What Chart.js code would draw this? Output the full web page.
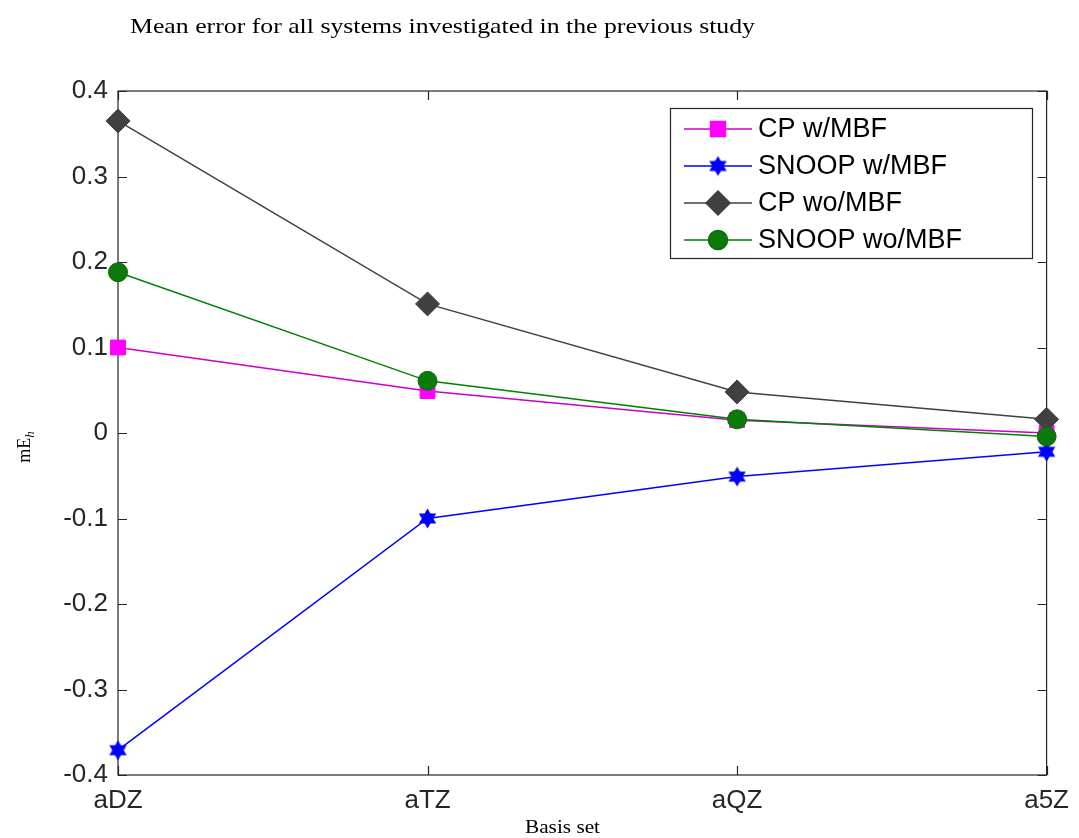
<!DOCTYPE html>
<html>
<head>
<meta charset="utf-8">
<script src="https://cdn.jsdelivr.net/npm/chart.js@4.4.1/dist/chart.umd.min.js"></script>
<style>
  html, body { margin: 0; padding: 0; background: #fff; }
  #wrap { width: 1079px; height: 838px; position: relative; }
</style>
</head>
<body>
<div id="wrap"><canvas id="miGrafica" width="1079" height="838"></canvas></div>
<script>
// datos
const basisSets = ["aDZ", "aTZ", "aQZ", "a5Z"];
const cpConMBF = [0.100, 0.049, 0.015, 0.000];
const snoopConMBF = [-0.371, -0.100, -0.051, -0.022];
const cpSinMBF = [0.365, 0.151, 0.048, 0.016];
const snoopSinMBF = [0.188, 0.061, 0.016, -0.004];
const yTicks = [-0.4, -0.3, -0.2, -0.1, 0, 0.1, 0.2, 0.3, 0.4];

const tituloTexto = "Mean error for all systems investigated in the previous study";
const colorEjes = "#262626";

// estrella de seis puntas para SNOOP w/MBF
function hexagrama(size, color) {
    const c = document.createElement("canvas");
    c.width = size; c.height = size;
    const g = c.getContext("2d");
    const r = size / 2 - 0.5, cx = size / 2, cy = size / 2;
    g.fillStyle = color;
    for (let t = 0; t < 2; t++) {
        g.beginPath();
        for (let k = 0; k < 3; k++) {
            const a = -Math.PI / 2 + t * Math.PI + k * 2 * Math.PI / 3;
            const x = cx + r * Math.cos(a), y = cy + r * Math.sin(a);
            if (k === 0) g.moveTo(x, y); else g.lineTo(x, y);
        }
        g.closePath();
        g.fill();
    }
    return c;
}
const estrella = hexagrama(21, "#0000ff");

const series = [
    { label: "CP w/MBF", data: cpConMBF, borderColor: "#cc00cc", backgroundColor: "#ff00ff",
      pointStyle: "rect", pointRadius: 10.5, pointBorderColor: "#ff00ff" },
    { label: "SNOOP w/MBF", data: snoopConMBF, borderColor: "#0000ff", backgroundColor: "#0000ff",
      pointStyle: estrella, pointRadius: 10, pointBorderColor: "#0000ff" },
    { label: "CP wo/MBF", data: cpSinMBF, borderColor: "#404040", backgroundColor: "#404040",
      pointStyle: "rectRot", pointRadius: 12, pointBorderColor: "#404040" },
    { label: "SNOOP wo/MBF", data: snoopSinMBF, borderColor: "#008000", backgroundColor: "#0a7a0a",
      pointStyle: "circle", pointRadius: 9.5, pointBorderColor: "#0a6a0a" }
];

// texto serif estirado al ancho que tiene en la figura
function textoAncho(ctx, txt, x, y, ancho) {
    const w = ctx.measureText(txt).width;
    ctx.save();
    ctx.translate(x, y);
    ctx.scale(ancho / w, 1);
    ctx.fillText(txt, 0, 0);
    ctx.restore();
}

const cajaYTitulos = {
    id: "cajaYTitulos",
    beforeDatasetsDraw(chart) {
        const { ctx, chartArea: a, scales } = chart;
        ctx.save();
        ctx.strokeStyle = colorEjes;
        ctx.lineWidth = 1.2;
        ctx.strokeRect(a.left, a.top, a.right - a.left, a.bottom - a.top);
        ctx.beginPath();
        yTicks.forEach(v => {
            const y = Math.round(scales.y.getPixelForValue(v)) + 0.5;
            ctx.moveTo(a.left, y); ctx.lineTo(a.left + 9, y);
            ctx.moveTo(a.right, y); ctx.lineTo(a.right - 9, y);
        });
        basisSets.forEach((b, i) => {
            const x = Math.round(scales.x.getPixelForValue(i)) + 0.5;
            ctx.moveTo(x, a.bottom); ctx.lineTo(x, a.bottom - 9);
            ctx.moveTo(x, a.top); ctx.lineTo(x, a.top + 9);
        });
        ctx.stroke();
        ctx.restore();
    },
    afterDraw(chart) {
        const { ctx } = chart;
        ctx.save();
        ctx.fillStyle = "#000";
        ctx.textAlign = "left";
        ctx.textBaseline = "alphabetic";
        // titulo
        ctx.font = "21px 'Liberation Serif'";
        textoAncho(ctx, tituloTexto, 130, 33, 625);
        // titulo eje X
        ctx.font = "19px 'Liberation Serif'";
        textoAncho(ctx, "Basis set", 525, 833, 75);
        // titulo eje Y
        ctx.translate(30, 447);
        ctx.rotate(-Math.PI / 2);
        ctx.font = "18px 'Liberation Serif'";
        const w1 = ctx.measureText("mE").width;
        ctx.font = "italic 13px 'Liberation Serif'";
        const w2 = ctx.measureText("h").width;
        const x0 = -(w1 + w2) / 2;
        ctx.font = "18px 'Liberation Serif'";
        ctx.fillText("mE", x0, 0);
        ctx.font = "italic 13px 'Liberation Serif'";
        ctx.fillText("h", x0 + w1, 4);
        ctx.restore();

        // leyenda
        const lx = 670, ly = 108, lw = 362, lh = 150;
        ctx.save();
        ctx.fillStyle = "#fff";
        ctx.fillRect(lx, ly, lw, lh);
        ctx.strokeStyle = colorEjes;
        ctx.lineWidth = 1.2;
        ctx.strokeRect(lx + 0.5, ly + 0.5, lw, lh);
        ctx.font = "27px 'Liberation Sans'";
        ctx.textBaseline = "middle";
        ctx.textAlign = "left";
        chart.data.datasets.forEach((ds, i) => {
            const y = ly + 21 + i * 37;
            ctx.strokeStyle = ds.borderColor;
            ctx.lineWidth = 1.5;
            ctx.beginPath();
            ctx.moveTo(lx + 14, y); ctx.lineTo(lx + 82, y);
            ctx.stroke();
            ctx.fillStyle = ds.backgroundColor;
            ctx.strokeStyle = ds.pointBorderColor;
            Chart.helpers.drawPoint(ctx, {
                pointStyle: ds.pointStyle, radius: ds.pointRadius, borderWidth: 1, rotation: 0
            }, lx + 48, y);
            ctx.fillStyle = "#000";
            ctx.fillText(ds.label, lx + 88, y + 1);
        });
        ctx.restore();
    }
};

const ctx = document.getElementById("miGrafica").getContext("2d");
new Chart(ctx, {
    type: "line",
    data: {
        labels: basisSets,
        // las series posteriores se dibujan encima, como en la figura
        datasets: series.map((s, i) => Object.assign({
            borderWidth: 1.5,
            pointBorderWidth: 1,
            pointHoverRadius: s.pointRadius,
            fill: false,
            tension: 0,
            clip: false,
            order: series.length - 1 - i
        }, s))
    },
    options: {
        responsive: false,
        animation: false,
        layout: { padding: { left: 0, top: 91, right: 29, bottom: 0 } },
        plugins: {
            legend: { display: false },
            tooltip: { enabled: false },
            title: { display: false }
        },
        scales: {
            x: {
                type: "category",
                offset: false,
                grid: { display: false, drawTicks: false },
                border: { display: false },
                ticks: { color: colorEjes, font: { family: "Liberation Sans", size: 26 }, padding: 10 },
                afterFit(scale) { scale.height = 63; }
            },
            y: {
                min: -0.4,
                max: 0.4,
                grid: { display: false, drawTicks: false },
                border: { display: false },
                afterBuildTicks(scale) { scale.ticks = yTicks.map(v => ({ value: v })); },
                ticks: {
                    color: colorEjes,
                    font: { family: "Liberation Sans", size: 26 },
                    padding: 10,
                    callback: v => (Math.abs(v) < 1e-9 ? "0" : String(Math.round(v * 10) / 10))
                },
                afterFit(scale) { scale.width = 118; }
            }
        }
    },
    plugins: [cajaYTitulos]
});
</script>
</body>
</html>
